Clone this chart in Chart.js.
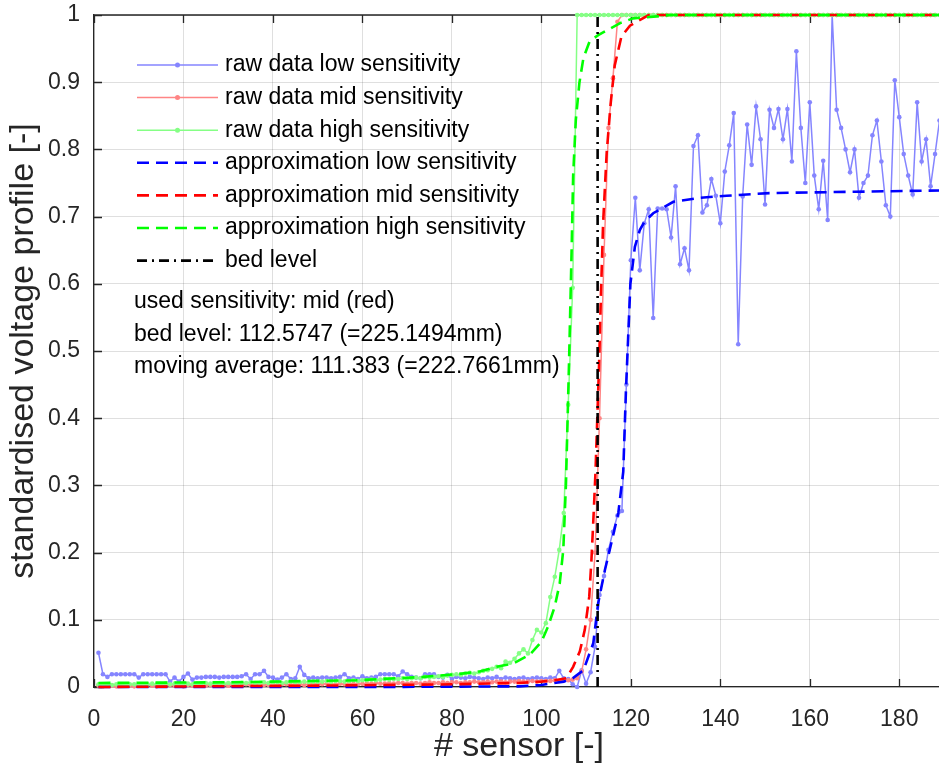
<!DOCTYPE html>
<html lang="en">
<head>
<meta charset="UTF-8">
<title>Bed level detection</title>
<script src="https://cdn.jsdelivr.net/npm/chart.js"></script>
<style>
  html, body { margin: 0; padding: 0; overflow: hidden; background: #fff; }
  #wrap { width: 960px; height: 767px; }
</style>
</head>
<body>
<div id="wrap"><canvas id="profile" width="960" height="767"></canvas></div>
<script>
// sensor number along the probe (1..190)
const sensorIds = Array.from({ length: 190 }, (_, i) => i + 1);

// standardised voltage per sensor, one value per sensor
const rawLow = [
  0.051, 0.019, 0.015, 0.019, 0.019, 0.019, 0.019, 0.019, 0.019, 0.014,
  0.019, 0.019, 0.019, 0.019, 0.019, 0.019, 0.008, 0.014, 0.008, 0.015,
  0.020, 0.011, 0.014, 0.014, 0.015, 0.015, 0.015, 0.014, 0.015, 0.015,
  0.015, 0.015, 0.016, 0.019, 0.012, 0.019, 0.019, 0.024, 0.015, 0.014,
  0.011, 0.014, 0.019, 0.012, 0.013, 0.030, 0.018, 0.013, 0.014, 0.013,
  0.014, 0.014, 0.013, 0.014, 0.015, 0.019, 0.013, 0.014, 0.012, 0.016,
  0.013, 0.014, 0.015, 0.019, 0.019, 0.019, 0.019, 0.016, 0.023, 0.019,
  0.015, 0.014, 0.013, 0.019, 0.019, 0.019, 0.015, 0.014, 0.018, 0.012,
  0.015, 0.014, 0.013, 0.015, 0.014, 0.013, 0.012, 0.014, 0.013, 0.015,
  0.012, 0.014, 0.013, 0.012, 0.013, 0.014, 0.012, 0.013, 0.014, 0.013,
  0.012, 0.014, 0.013, 0.024, 0.013, 0.012, 0.004, 0.000, 0.025, 0.005,
  0.022, 0.060, 0.137, 0.165, 0.204, 0.231, 0.255, 0.262, 0.450, 0.635,
  0.728, 0.620, 0.690, 0.711, 0.549, 0.712, 0.712, 0.711, 0.669, 0.745,
  0.629, 0.653, 0.620, 0.805, 0.821, 0.706, 0.717, 0.756, 0.731, 0.690,
  0.767, 0.806, 0.854, 0.510, 0.730, 0.837, 0.777, 0.864, 0.815, 0.718,
  0.859, 0.832, 0.860, 0.815, 0.860, 0.782, 0.946, 0.832, 0.750, 0.870,
  0.761, 0.711, 0.783, 0.695, 1.000, 0.859, 0.832, 0.800, 0.766, 0.800,
  0.728, 0.750, 0.761, 0.821, 0.843, 0.782, 0.717, 0.700, 0.903, 0.848,
  0.793, 0.761, 0.733, 0.870, 0.782, 0.815, 0.745, 0.793, 0.843, 0.800
];

const rawMid = [
  0.002, 0.001, 0.002, 0.002, 0.001, 0.002, 0.003, 0.002, 0.001, 0.002,
  0.002, 0.003, 0.002, 0.001, 0.002, 0.002, 0.003, 0.002, 0.002, 0.001,
  0.003, 0.002, 0.003, 0.003, 0.002, 0.003, 0.002, 0.003, 0.003, 0.002,
  0.003, 0.003, 0.002, 0.004, 0.003, 0.003, 0.004, 0.003, 0.003, 0.004,
  0.003, 0.004, 0.004, 0.003, 0.004, 0.004, 0.003, 0.004, 0.005, 0.004,
  0.004, 0.005, 0.004, 0.004, 0.005, 0.004, 0.005, 0.005, 0.004, 0.005,
  0.005, 0.005, 0.006, 0.005, 0.005, 0.006, 0.005, 0.006, 0.006, 0.005,
  0.006, 0.006, 0.005, 0.006, 0.007, 0.006, 0.006, 0.007, 0.006, 0.007,
  0.007, 0.006, 0.007, 0.007, 0.008, 0.007, 0.007, 0.008, 0.007, 0.008,
  0.008, 0.007, 0.008, 0.008, 0.009, 0.008, 0.008, 0.009, 0.008, 0.009,
  0.009, 0.009, 0.010, 0.009, 0.010, 0.010, 0.011, 0.013, 0.023, 0.056,
  0.100, 0.200, 0.400, 0.643, 0.832, 0.906, 0.990, 1, 1, 1,
  1, 1, 1, 1, 1, 1, 1, 1, 1, 1,
  1, 1, 1, 1, 1, 1, 1, 1, 1, 1,
  1, 1, 1, 1, 1, 1, 1, 1, 1, 1,
  1, 1, 1, 1, 1, 1, 1, 1, 1, 1,
  1, 1, 1, 1, 1, 1, 1, 1, 1, 1,
  1, 1, 1, 1, 1, 1, 1, 1, 1, 1,
  1, 1, 1, 1, 1, 1, 1, 1, 1, 1
];

const rawHigh = [
  0.004, 0.003, 0.004, 0.003, 0.004, 0.004, 0.003, 0.004, 0.004, 0.003,
  0.004, 0.004, 0.005, 0.004, 0.004, 0.005, 0.004, 0.005, 0.004, 0.005,
  0.005, 0.004, 0.005, 0.005, 0.006, 0.005, 0.005, 0.006, 0.005, 0.006,
  0.006, 0.005, 0.006, 0.006, 0.007, 0.006, 0.006, 0.007, 0.006, 0.007,
  0.007, 0.006, 0.007, 0.008, 0.007, 0.007, 0.008, 0.007, 0.008, 0.008,
  0.008, 0.009, 0.008, 0.009, 0.009, 0.008, 0.009, 0.010, 0.009, 0.010,
  0.010, 0.011, 0.010, 0.011, 0.012, 0.011, 0.012, 0.012, 0.013, 0.012,
  0.013, 0.014, 0.013, 0.015, 0.014, 0.015, 0.016, 0.015, 0.017, 0.018,
  0.019, 0.018, 0.020, 0.021, 0.020, 0.022, 0.024, 0.025, 0.027, 0.030,
  0.028, 0.038, 0.036, 0.042, 0.050, 0.056, 0.050, 0.070, 0.085, 0.081,
  0.095, 0.134, 0.164, 0.204, 0.259, 0.420, 0.594, 1, 1, 1,
  1, 1, 1, 1, 1, 1, 1, 1, 1, 1,
  1, 1, 1, 1, 1, 1, 1, 1, 1, 1,
  1, 1, 1, 1, 1, 1, 1, 1, 1, 1,
  1, 1, 1, 1, 1, 1, 1, 1, 1, 1,
  1, 1, 1, 1, 1, 1, 1, 1, 1, 1,
  1, 1, 1, 1, 1, 1, 1, 1, 1, 1,
  1, 1, 1, 1, 1, 1, 1, 1, 1, 1,
  1, 1, 1, 1, 1, 1, 1, 1, 1, 1
];

// fitted profiles (sensor position, value)
const approxLowX = [1, 60, 95, 100, 105, 107, 109.4, 111.6, 112.7, 114.2, 115.7, 117.2, 118.3,
  118.9, 119.4, 119.9, 120.9, 122, 123, 125, 129.5, 135.5, 141.4, 151, 170, 190];
const approxLowY = [0, 0, 0.001, 0.003, 0.008, 0.013, 0.025, 0.065, 0.125, 0.174, 0.216, 0.259, 0.32,
  0.44, 0.52, 0.60, 0.655, 0.68, 0.692, 0.705, 0.722, 0.728, 0.731, 0.735, 0.737, 0.739];

const approxMidX = [1, 50, 80, 95, 100, 103, 105.6, 107.1, 108.6, 109.7, 110.7, 111.2, 111.7, 112.1,
  112.5, 112.9, 113.3, 113.8, 114.6, 115.5, 116.4, 117.9, 119.8, 121.3, 124, 190];
const approxMidY = [0, 0.002, 0.004, 0.006, 0.008, 0.010, 0.013, 0.03, 0.053, 0.085, 0.134, 0.19, 0.26, 0.32,
  0.40, 0.48, 0.58, 0.69, 0.795, 0.869, 0.925, 0.968, 0.984, 0.99, 1, 1];

const approxHighX = [1, 30, 58.6, 73.5, 81, 86.2, 90, 93.7, 97.4, 100, 101.5, 103, 104.1, 104.9, 105.5,
  106.2, 106.8, 107.1, 107.7, 108.5, 109.4, 110.8, 112.7, 114.9, 117.6, 120.5, 125.8, 128.7, 190];
const approxHighY = [0.006, 0.007, 0.010, 0.015, 0.019, 0.023, 0.030, 0.035, 0.048, 0.067, 0.09, 0.12, 0.154, 0.204, 0.303,
  0.487, 0.661, 0.76, 0.844, 0.899, 0.936, 0.961, 0.970, 0.978, 0.988, 0.995, 0.998, 1, 1];

const bedLevel = 112.5747;
const notes = [
  'used sensitivity: mid (red)',
  'bed level: 112.5747 (=225.1494mm)',
  'moving average: 111.383 (=222.7661mm)'
];

const FONT = "'Liberation Sans', Arial, Helvetica, sans-serif";
const AXIS_COLOR = '#262626';

function series(ys) { return ys.map((y, i) => ({ x: sensorIds[i], y })); }
function curve(xs, ys) { return xs.map((x, i) => ({ x, y: ys[i] })); }

function rawSet(label, ys, color, order) {
  return {
    label, data: series(ys), borderColor: color, backgroundColor: color,
    borderWidth: 1.5, pointRadius: 2.3, pointBorderWidth: 0, pointHoverRadius: 0,
    order, clip: 6, raw: true
  };
}
function fitSet(label, xs, ys, color, order) {
  return {
    label, data: curve(xs, ys), borderColor: color, backgroundColor: color,
    borderWidth: 2.6, borderDash: [12, 7], pointRadius: 0, order, clip: 6
  };
}

// box outline on top, inward tick marks, legend and info text
const matlabBox = {
  id: 'matlabBox',
  beforeDatasetsDraw(chart) {
    const { ctx, chartArea: a, scales: { x, y } } = chart;
    ctx.save();
    ctx.strokeStyle = AXIS_COLOR;
    ctx.lineWidth = 1.3;
    ctx.beginPath();
    ctx.moveTo(a.left, a.top); ctx.lineTo(a.right, a.top);
    x.ticks.forEach(t => {
      const px = Math.round(x.getPixelForValue(t.value)) + 0.5;
      ctx.moveTo(px, a.bottom); ctx.lineTo(px, a.bottom - 8);
      ctx.moveTo(px, a.top); ctx.lineTo(px, a.top + 8);
    });
    y.ticks.forEach(t => {
      const py = Math.round(y.getPixelForValue(t.value)) + 0.5;
      ctx.moveTo(a.left, py); ctx.lineTo(a.left + 8, py);
    });
    ctx.stroke();
    ctx.restore();
  },
  afterDatasetsDraw(chart) {
    const { ctx } = chart;
    const x0 = 137, x1 = 218, tx = 225;
    ctx.save();
    ctx.font = '23px ' + FONT;
    ctx.textBaseline = 'middle';
    ctx.fillStyle = '#000';
    chart.data.datasets.forEach((ds, i) => {
      const ry = 65 + i * 32.6;
      ctx.strokeStyle = ds.borderColor;
      ctx.lineWidth = ds.borderWidth;
      ctx.setLineDash(ds.borderDash || []);
      ctx.beginPath();
      ctx.moveTo(x0, ry); ctx.lineTo(x1, ry);
      ctx.stroke();
      if (ds.raw) {
        ctx.fillStyle = ds.borderColor;
        ctx.beginPath();
        ctx.arc((x0 + x1) / 2, ry, 2.5, 0, Math.PI * 2);
        ctx.fill();
      }
      ctx.fillStyle = '#000';
      ctx.fillText(ds.label, tx, ry);
    });
    ctx.setLineDash([]);
    notes.forEach((line, i) => ctx.fillText(line, 134, 302 + i * 32.5));
    ctx.restore();
  }
};

new Chart(document.getElementById('profile'), {
  type: 'line',
  data: {
    datasets: [
      rawSet('raw data low sensitivity', rawLow, '#8585ff', 7),
      rawSet('raw data mid sensitivity', rawMid, '#ff8585', 6),
      rawSet('raw data high sensitivity', rawHigh, '#85ff85', 5),
      fitSet('approximation low sensitivity', approxLowX, approxLowY, '#0000ff', 4),
      fitSet('approximation mid sensitivity', approxMidX, approxMidY, '#ff0000', 3),
      fitSet('approximation high sensitivity', approxHighX, approxHighY, '#00ff00', 2),
      {
        label: 'bed level', data: [{ x: bedLevel, y: 0 }, { x: bedLevel, y: 1 }],
        borderColor: '#000', borderWidth: 2.6, borderDash: [10, 5, 2, 5],
        pointRadius: 0, order: 1, clip: 6
      }
    ]
  },
  options: {
    responsive: false,
    animation: false,
    events: [],
    layout: { padding: { top: 15, right: 16, left: 0, bottom: 0 } },
    elements: { line: { tension: 0 } },
    plugins: { legend: { display: false }, tooltip: { enabled: false } },
    scales: {
      x: {
        type: 'linear', min: 0, max: 190,
        ticks: {
          stepSize: 20, includeBounds: false, autoSkip: false, maxRotation: 0,
          color: AXIS_COLOR, padding: 19, font: { family: FONT, size: 23 }
        },
        grid: { color: 'rgba(38,38,38,0.15)', drawTicks: false },
        border: { color: AXIS_COLOR, width: 1.3 },
        title: {
          display: true, text: '# sensor [-]', color: AXIS_COLOR,
          font: { family: FONT, size: 34 }, padding: { top: 0, bottom: 0 }
        },
        afterFit(scale) {
          scale.height = 80;
          scale.paddingLeft = 0;
          scale.paddingRight = 0;
        }
      },
      y: {
        type: 'linear', min: 0, max: 1,
        ticks: {
          stepSize: 0.1, color: AXIS_COLOR, padding: 14,
          font: { family: FONT, size: 23 },
          callback: v => String(Math.round(v * 10) / 10)
        },
        grid: { color: 'rgba(38,38,38,0.15)', drawTicks: false },
        border: { color: AXIS_COLOR, width: 1.3 },
        title: {
          display: true, text: 'standardised voltage profile [-]', color: AXIS_COLOR,
          font: { family: FONT, size: 34 }, padding: { top: 3, bottom: 0 }
        },
        afterFit(scale) {
          // plot box is fixed; tick labels may overhang it
          scale.width = 94;
          scale.paddingTop = 0;
          scale.paddingBottom = 0;
        }
      }
    }
  },
  plugins: [matlabBox]
});
</script>
</body>
</html>
